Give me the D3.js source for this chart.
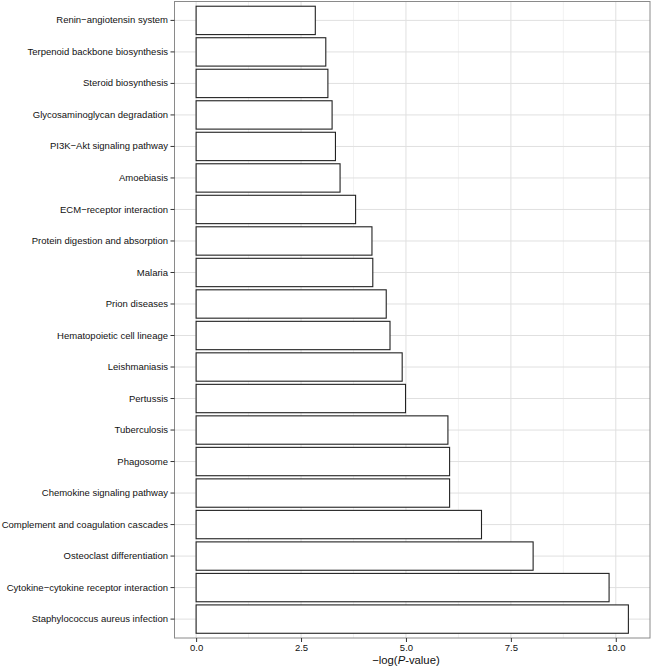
<!DOCTYPE html>
<html>
<head>
<meta charset="utf-8">
<script src="https://cdn.jsdelivr.net/npm/d3@7"></script>
<style>
  body { margin: 0; background: #fff; }
  text { font-family: "Liberation Sans", Arial, Helvetica, sans-serif; }
</style>
</head>
<body>
<div id="chart"></div>
<script>
// pathways, listed top to bottom as they appear
const pathways = [
  "Renin\u2212angiotensin system",
  "Terpenoid backbone biosynthesis",
  "Steroid biosynthesis",
  "Glycosaminoglycan degradation",
  "PI3K\u2212Akt signaling pathway",
  "Amoebiasis",
  "ECM\u2212receptor interaction",
  "Protein digestion and absorption",
  "Malaria",
  "Prion diseases",
  "Hematopoietic cell lineage",
  "Leishmaniasis",
  "Pertussis",
  "Tuberculosis",
  "Phagosome",
  "Chemokine signaling pathway",
  "Complement and coagulation cascades",
  "Osteoclast differentiation",
  "Cytokine\u2212cytokine receptor interaction",
  "Staphylococcus aureus infection"
];

// -log(P-value) for each pathway
const negLogP = [
  2.84, 3.09, 3.14, 3.24, 3.32, 3.43, 3.80, 4.19, 4.21, 4.53,
  4.62, 4.91, 4.99, 6.00, 6.04, 6.04, 6.80, 8.03, 9.84, 10.30
];

const xTicks = [0, 2.5, 5, 7.5, 10];
const xMinor = [1.25, 3.75, 6.25, 8.75];

const data = pathways.map((name, i) => ({ name, value: negLogP[i] }));

const width = 652;
const height = 667;
const margin = { top: 1.5, right: 2, bottom: 29, left: 174.5 };
const innerW = width - margin.left - margin.right;
const innerH = height - margin.top - margin.bottom;

const svg = d3.select("#chart")
  .append("svg")
  .attr("width", width)
  .attr("height", height);

const g = svg.append("g")
  .attr("transform", `translate(${margin.left},${margin.top})`);

// ggplot-like 5% expansion on the continuous axis
const maxV = d3.max(negLogP);
const pad = maxV * 0.05;
const x = d3.scaleLinear()
  .domain([-pad, maxV + pad])
  .range([0, innerW]);

const y = d3.scaleBand()
  .domain(pathways)
  .range([0, innerH])
  .paddingInner(0.1)
  .paddingOuter(0.15);

// minor grid
g.selectAll(".minor")
  .data(xMinor)
  .enter()
  .append("line")
  .attr("x1", d => x(d)).attr("x2", d => x(d))
  .attr("y1", 0).attr("y2", innerH)
  .attr("stroke", "#f2f2f2")
  .attr("stroke-width", 1);

// major grid
g.selectAll(".majorx")
  .data(xTicks)
  .enter()
  .append("line")
  .attr("x1", d => x(d)).attr("x2", d => x(d))
  .attr("y1", 0).attr("y2", innerH)
  .attr("stroke", "#e0e0e0")
  .attr("stroke-width", 1);

g.selectAll(".majory")
  .data(pathways)
  .enter()
  .append("line")
  .attr("x1", 0).attr("x2", innerW)
  .attr("y1", d => y(d) + y.bandwidth() / 2)
  .attr("y2", d => y(d) + y.bandwidth() / 2)
  .attr("stroke", "#e0e0e0")
  .attr("stroke-width", 1);

// bars
g.selectAll(".bar")
  .data(data)
  .enter()
  .append("rect")
  .attr("x", x(0))
  .attr("y", d => y(d.name))
  .attr("width", d => x(d.value) - x(0))
  .attr("height", y.bandwidth())
  .attr("fill", "#fff")
  .attr("stroke", "#222")
  .attr("stroke-width", 1.1);

// panel border
g.append("rect")
  .attr("width", innerW)
  .attr("height", innerH)
  .attr("fill", "none")
  .attr("stroke", "#8a8a8a")
  .attr("stroke-width", 1);

// axes
const xAxis = g.append("g")
  .attr("transform", `translate(0,${innerH})`)
  .call(d3.axisBottom(x).tickValues(xTicks).tickFormat(d3.format(".1f"))
    .tickSize(4).tickPadding(2));

const yAxis = g.append("g")
  .call(d3.axisLeft(y).tickSize(4).tickPadding(2.5));

[xAxis, yAxis].forEach(a => {
  a.select(".domain").remove();
  a.selectAll(".tick line").attr("stroke", "#333");
  a.selectAll(".tick text")
    .attr("fill", "#111")
    .style("font-size", "9.5px")
    .style("font-family", "'Liberation Sans', Arial, sans-serif");
});

// axis title
const title = svg.append("text")
  .attr("x", margin.left + x(5))
  .attr("y", height - 3)
  .attr("text-anchor", "middle")
  .attr("fill", "#111")
  .style("font-size", "11.3px");
title.append("tspan").text("\u2212log(");
title.append("tspan").attr("font-style", "italic").text("P");
title.append("tspan").text("-value)");
</script>
</body>
</html>
